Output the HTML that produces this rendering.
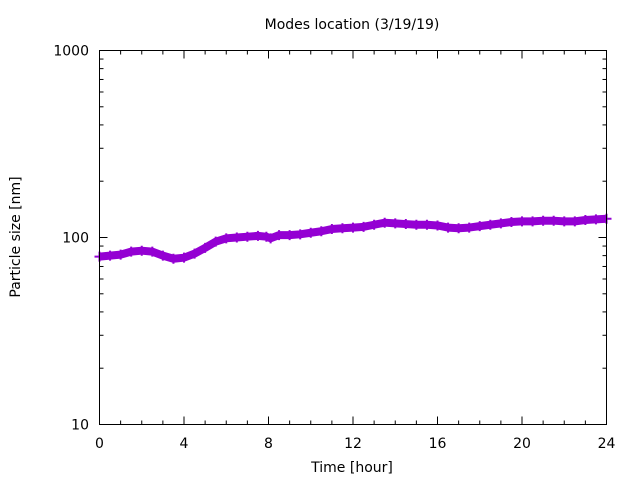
<!DOCTYPE html>
<html><head><meta charset="utf-8"><style>
body{margin:0;background:#fff}
svg text{font-family:"DejaVu Sans","Liberation Sans",sans-serif;font-size:14px;fill:#000}
</style></head><body>
<svg id="chart" width="640" height="480" viewBox="0 0 640 480" xmlns="http://www.w3.org/2000/svg">
<rect width="640" height="480" fill="#fff"/>
<text x="352" y="29" text-anchor="middle">Modes location (3/19/19)</text>
<text x="352" y="472" text-anchor="middle">Time [hour]</text>
<text transform="translate(20,237) rotate(-90)" text-anchor="middle">Particle size [nm]</text>
<g id="ticks"></g>
<g id="series"></g>
<rect x="99.5" y="50.5" width="507" height="374" fill="none" stroke="#000" stroke-width="1"/>
</svg>
<script>
const hours=[0,0.5,1,1.5,2,2.5,3,3.5,4,4.5,5,5.5,6,6.5,7,7.5,7.9,8.1,8.5,9,9.5,10,10.5,11,11.5,12,12.5,13,13.5,14,14.5,15,15.5,16,16.5,17,17.5,18,18.5,19,19.5,20,20.5,21,21.5,22,22.5,23,23.5,24];
const sizes=[79,80,81,84,85,84,80,77,78,82,88,95,99,100,101,102,101,99,103,103,104,106,108,111,112,113,114,117,120,119,118,117,117,116,113,112,113,115,117,119,121,122,122,123,123,122,122,124,125,126];
const xTicks=[0,4,8,12,16,20,24];
const yTicks=[10,100,1000];
const X0=99.5,X1=606.5,Y0=424.5,Y1=50.5;
const xs=h=>X0+(h/24)*(X1-X0);
const ys=v=>Y0-(Math.log10(v)-1)/2*(Y0-Y1);
const NS="http://www.w3.org/2000/svg";
const tg=document.getElementById('ticks');
function line(x1,y1,x2,y2,name){const l=document.createElementNS(NS,'line');
l.setAttribute('x1',x1);l.setAttribute('y1',y1);l.setAttribute('x2',x2);l.setAttribute('y2',y2);
l.setAttribute('stroke','#000');


tg.appendChild(l);}
function txt(x,y,s,anchor,name){const t=document.createElementNS(NS,'text');
t.setAttribute('x',x);t.setAttribute('y',y);t.setAttribute('text-anchor',anchor);t.textContent=s;


tg.appendChild(t);}
for(let h=0;h<=24;h++){const x=xs(h);const major=h%4===0;const L=major?8:4;
line(x,Y0,x,Y0-L,'x-tick');line(x,Y1,x,Y1+L,'x-tick');}
xTicks.forEach(h=>txt(xs(h),448,String(h),'middle','x-tick-label'));
for(let d=10;d<1000;d*=10){for(let m=2;m<=9;m++){const y=ys(d*m);
line(X0,y,X0+4,y,'y-minor-tick');line(X1,y,X1-4,y,'y-minor-tick');}}
yTicks.forEach(v=>{const y=ys(v);line(X0,y,X0+8,y,'y-tick');line(X1,y,X1-8,y,'y-tick');
txt(89,y+5,String(v),'end','y-tick-label');});
const sg=document.getElementById('series');
const pl=document.createElementNS(NS,'polyline');
pl.setAttribute('points',hours.map((h,i)=>xs(h)+','+ys(sizes[i])).join(' '));
pl.setAttribute('fill','none');pl.setAttribute('stroke','#9400d3');pl.setAttribute('stroke-width','8');pl.setAttribute('stroke-linejoin','round');


sg.appendChild(pl);
hours.forEach((h,i)=>{const x=xs(h),y=ys(sizes[i]);
const p=document.createElementNS(NS,'path');
p.setAttribute('d',`M${x-5},${y}H${x+5}M${x},${y-5}V${y+5}`);
p.setAttribute('stroke','#9400d3');p.setAttribute('stroke-width','2');


sg.appendChild(p);});
</script>
</body></html>
